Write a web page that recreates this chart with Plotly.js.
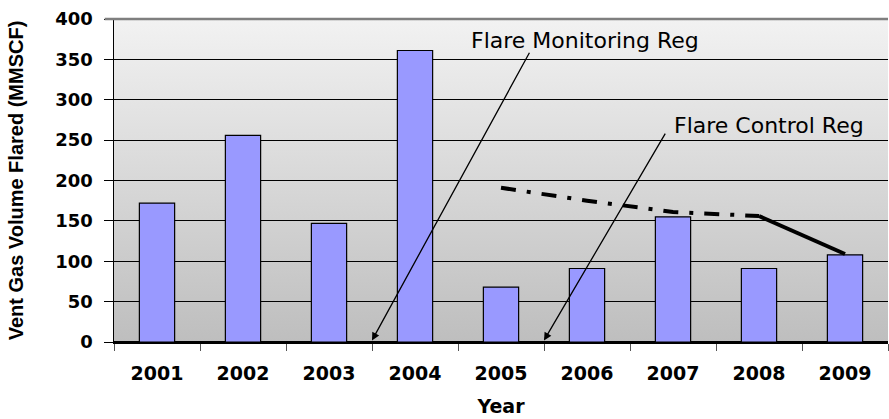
<!DOCTYPE html>
<html>
<head>
<meta charset="utf-8">
<script src="https://cdn.plot.ly/plotly-3.0.1.min.js"></script>
<style>
  html, body { margin: 0; padding: 0; background: #ffffff; }
  #chart { width: 889px; height: 419px; }
</style>
</head>
<body>
<div id="chart"></div>
<script>
// ---- data ----
var years = ['2001', '2002', '2003', '2004', '2005', '2006', '2007', '2008', '2009'];
var ventVolume = [172, 256, 147, 361, 68, 91, 155, 91, 108];

// trend line drawn over the bars (dash-dot part, then solid part)
var trendDashYears = ['2005', '2006', '2007', '2008'];
var trendDashValues = [191, 175, 161, 156];
var trendSolidYears = ['2008', '2009'];
var trendSolidValues = [156, 109];

var yTickValues = [0, 50, 100, 150, 200, 250, 300, 350, 400];
var annotationLabels = ['Flare Monitoring Reg', 'Flare Control Reg'];

// ---- chart ----
var gradSvg = '<svg xmlns="http://www.w3.org/2000/svg" width="100" height="100" viewBox="0 0 100 100" preserveAspectRatio="none">' +
  '<defs><linearGradient id="g" x1="0" y1="0" x2="0" y2="1">' +
  '<stop offset="0" stop-color="#f2f2f2"/><stop offset="1" stop-color="#bebebe"/>' +
  '</linearGradient></defs><rect x="0" y="0" width="100" height="100" fill="url(#g)"/></svg>';
var gradUri = 'data:image/svg+xml;charset=utf-8,' + encodeURIComponent(gradSvg);

var traces = [
  {
    type: 'bar',
    x: years,
    y: ventVolume,
    marker: { color: '#9999ff', line: { color: '#000000', width: 1.2 } },
    hoverinfo: 'x+y'
  },
  {
    type: 'scatter',
    mode: 'lines',
    x: trendDashYears,
    y: trendDashValues,
    line: { color: '#000000', width: 4, dash: '15px,11px,4px,11px' },
    hoverinfo: 'skip'
  },
  {
    type: 'scatter',
    mode: 'lines',
    x: trendSolidYears,
    y: trendSolidValues,
    line: { color: '#000000', width: 4 },
    hoverinfo: 'skip'
  }
];

var xTickFont = { family: 'DejaVu Sans, Arial, sans-serif', size: 19, color: '#000000', weight: 'bold' };
var yTickFont = { family: 'DejaVu Sans, Arial, sans-serif', size: 18, color: '#000000', weight: 'bold' };

var layout = {
  width: 889,
  height: 419,
  margin: { l: 114, r: 1, t: 19, b: 77, pad: 0 },
  paper_bgcolor: '#ffffff',
  plot_bgcolor: 'rgba(0,0,0,0)',
  showlegend: false,
  bargap: 0.59,
  font: { family: 'Liberation Sans, Arial, sans-serif', color: '#000000' },
  xaxis: {
    type: 'category',
    categoryorder: 'array',
    categoryarray: years,
    range: [-0.5, 8.5],
    showgrid: false,
    showline: true,
    linecolor: '#000000',
    linewidth: 1.5,
    ticks: 'outside',
    tickson: 'boundaries',
    ticklen: 7,
    tickcolor: '#555555',
    tickwidth: 1,
    tickfont: xTickFont,
    ticklabelstandoff: 14,
    title: {
      text: 'Year',
      font: { family: 'DejaVu Sans, Arial, sans-serif', size: 19, color: '#000000', weight: 'bold' },
      standoff: 16
    },
    zeroline: false
  },
  yaxis: {
    range: [0, 400],
    tickvals: yTickValues,
    showgrid: true,
    gridcolor: '#000000',
    gridwidth: 1,
    zeroline: true,
    zerolinecolor: '#000000',
    zerolinewidth: 1.5,
    showline: true,
    linecolor: '#000000',
    linewidth: 1.5,
    ticks: 'outside',
    ticklen: 9,
    tickcolor: '#000000',
    tickwidth: 1,
    tickfont: yTickFont,
    ticklabelstandoff: 7,
    title: {
      text: 'Vent Gas Volume Flared (MMSCF)',
      font: { family: 'Liberation Sans, Arial, sans-serif', size: 20, color: '#000000', weight: 'bold' },
      standoff: 26
    }
  },
  images: [{
    source: gradUri,
    xref: 'paper', yref: 'paper',
    x: 0, y: 1, sizex: 1, sizey: 1,
    xanchor: 'left', yanchor: 'top',
    sizing: 'stretch',
    layer: 'below'
  }],
  shapes: [{
    type: 'line', xref: 'paper', yref: 'paper',
    x0: -0.012, x1: 1, y0: 1, y1: 1,
    line: { color: '#7f7f7f', width: 2.5 }
  }],
  annotations: [
    {
      x: 2.5, y: 2, xref: 'x', yref: 'y',
      ax: 4.34, ay: 360, axref: 'x', ayref: 'y',
      text: '', showarrow: true,
      arrowhead: 2, arrowsize: 1.2, arrowwidth: 1.3, arrowcolor: '#000000'
    },
    {
      x: 4.5, y: 2, xref: 'x', yref: 'y',
      ax: 5.92, ay: 260, axref: 'x', ayref: 'y',
      text: '', showarrow: true,
      arrowhead: 2, arrowsize: 1.2, arrowwidth: 1.3, arrowcolor: '#000000'
    },
    {
      x: 3.64, y: 374, xref: 'x', yref: 'y',
      xanchor: 'left', yanchor: 'middle',
      text: annotationLabels[0], showarrow: false,
      font: { family: 'DejaVu Sans, Arial, sans-serif', size: 22, color: '#000000' },
      borderpad: 0
    },
    {
      x: 6.0, y: 268.5, xref: 'x', yref: 'y',
      xanchor: 'left', yanchor: 'middle',
      text: annotationLabels[1], showarrow: false,
      font: { family: 'DejaVu Sans, Arial, sans-serif', size: 22, color: '#000000' },
      borderpad: 0
    }
  ]
};

Plotly.newPlot('chart', traces, layout, { displayModeBar: false, staticPlot: true });
</script>
</body>
</html>
